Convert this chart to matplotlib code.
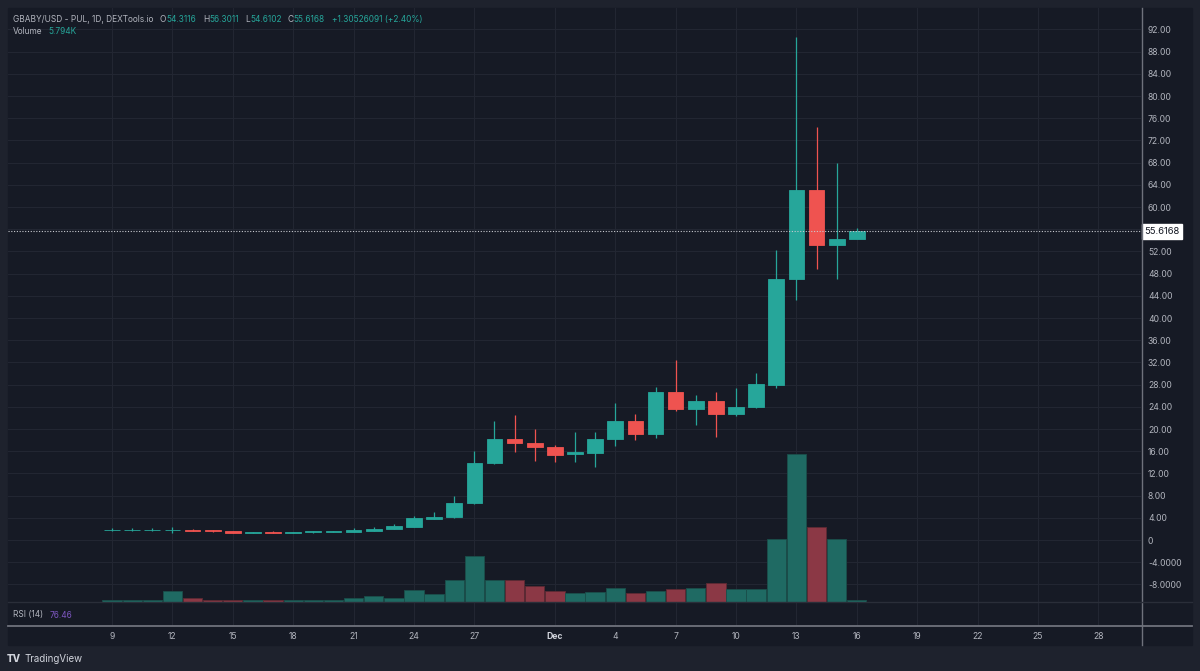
import matplotlib
matplotlib.use("Agg")
import matplotlib.pyplot as plt
import matplotlib.dates as mdates
from matplotlib.lines import Line2D
from matplotlib.patches import Rectangle
import numpy as np
import pandas as pd

plt.rcParams['font.family'] = ['Inter', 'DejaVu Sans']

# daily candles, GBABY/USD (PUL), 9 Nov - 16 Dec
dates = pd.date_range('2023-11-09', '2023-12-16', freq='D')
opens = [1.72, 1.78, 1.78, 1.78, 1.85, 1.72, 1.56, 1.34, 1.48, 1.30,
         1.40, 1.45, 1.45, 1.70, 1.95, 2.35, 3.85, 4.15, 6.7, 13.9,
         18.2, 17.5, 16.8, 15.5, 15.7, 18.2, 21.5, 19.1, 26.7, 23.6,
         25.1, 22.7, 24.0, 28.0, 47.1, 63.0, 53.2, 54.3116]
highs = [2.15, 2.2, 2.2, 2.3, 2.0, 1.85, 1.6, 1.5, 1.55, 1.45,
         1.6, 1.7, 2.2, 2.35, 2.9, 4.4, 5.0, 7.9, 16.1, 21.5,
         22.6, 20.0, 17.1, 19.5, 19.5, 24.7, 22.7, 27.6, 32.5, 26.2,
         26.7, 27.3, 30.1, 52.3, 90.6, 74.5, 67.9, 56.3011]
lows = [1.65, 1.70, 1.70, 1.30, 1.55, 1.50, 1.30, 1.28, 1.25, 1.18,
        1.35, 1.40, 1.40, 1.65, 1.90, 2.30, 3.80, 4.0, 6.5, 13.7,
        15.9, 14.3, 14.1, 14.1, 13.2, 17.0, 18.0, 18.4, 23.3, 20.8,
        18.6, 22.4, 23.8, 27.4, 43.2, 48.9, 47.1, 54.6102]
closes = [1.80, 1.82, 1.82, 1.85, 1.70, 1.55, 1.33, 1.50, 1.30, 1.45,
          1.55, 1.55, 1.75, 2.0, 2.5, 3.95, 4.1, 6.7, 13.9, 18.2,
          17.5, 16.8, 15.3, 15.9, 18.2, 21.5, 19.1, 26.7, 23.6, 25.1,
          22.7, 24.0, 28.1, 47.1, 63.0, 53.2, 54.3116, 55.6168]
volumes_k = [5.2, 5.2, 5.2, 33.5, 11.3, 7.0, 6.1, 5.2, 4.6, 5.2,
             7.0, 7.0, 13.1, 17.4, 13.1, 36.6, 25.9, 65.9, 141.0, 65.9,
             65.9, 47.6, 33.5, 27.5, 31.4, 41.5, 27.5, 33.5, 39.7, 43.6,
             58.0, 40.6, 39.0, 191.5, 451.0, 229.7, 191.8, 5.794]
change_text = '+1.30526091 (+2.40%)'
rsi_value = '76.46'

tick_dates = list(pd.date_range('2023-11-09', '2023-11-27', freq='3D')) + \
    [pd.Timestamp('2023-12-01')] + list(pd.date_range('2023-12-04', '2023-12-28', freq='3D'))
tick_labels = ['Dec' if d.day == 1 else str(d.day) for d in tick_dates]
price_ticks = [v for v in range(-8, 93, 4) if v != 56]

UP, DOWN = '#26a69a', '#ef5350'
VUP, VDOWN = '#1f6a63', '#8b3845'
PANE, OUTER = '#161a25', '#1e222d'
GRID = '#222632'
TXT = '#b2b5be'

W, H = 1200, 671


def rect(x0, y0, x1, y1):
    return [x0 / W, 1 - y1 / H, (x1 - x0) / W, (y1 - y0) / H]


fig = plt.figure(figsize=(W / 100, H / 100), dpi=100, facecolor=OUTER)
fig.add_artist(Rectangle((8 / W, 1 - 645 / H), 1184 / W, 637 / H,
                         transform=fig.transFigure, color=PANE, zorder=0))

xd = mdates.date2num(dates)
x0 = xd[0]

ax = fig.add_axes(rect(8, 8, 1141, 602))
ax.patch.set_visible(False)
ax.set_xlim(x0 - 5.17, x0 + 51.12)
ax.set_ylim(-11.17, 95.86)
for s in ax.spines.values():
    s.set_visible(False)
tick_x = mdates.date2num(tick_dates)
for t in tick_x:
    ax.axvline(t, color=GRID, lw=0.8, zorder=0)
for p in price_ticks + [56]:
    ax.axhline(p, color=GRID, lw=0.8, zorder=0)

ax.yaxis.tick_right()
ax.set_yticks(price_ticks)
ax.set_yticklabels([f'{v:.2f}' if v > 0 else ('0' if v == 0 else f'{v:.4f}') for v in price_ticks])
ax.tick_params(axis='y', length=0, pad=5, labelsize=6.2, labelcolor=TXT)
ax.set_xticks([])

o = np.array(opens)
c = np.array(closes)
up = c >= o
cols = np.where(up, UP, DOWN)
ax.vlines(xd, lows, highs, colors=cols, lw=0.9, zorder=3)
ax.bar(xd, np.abs(c - o), bottom=np.minimum(o, c), width=0.78,
       color=cols, edgecolor=cols, lw=0.6, zorder=4)

ax.axhline(closes[-1], color='#c8cad0', lw=0.8, ls=(0, (1, 1.5)), zorder=5)
ax.text(1.003, closes[-1], f'{closes[-1]:.4f}', transform=ax.get_yaxis_transform(),
        ha='left', va='center', fontsize=6.8, color='#131722', zorder=6,
        bbox=dict(boxstyle='square,pad=0.3', fc='white', ec='white'))

vax = fig.add_axes(rect(8, 8, 1141, 602), sharex=ax)
vax.patch.set_visible(False)
vax.axis('off')
vax.set_ylim(0, 451.0 * 594 / 148)
vax.bar(xd, volumes_k, width=0.96, color=np.where(up, VUP, VDOWN),
        edgecolor=np.where(up, '#1a4f4b', '#5e2a33'), lw=0.6)

rax = fig.add_axes(rect(8, 602, 1141, 626), sharex=ax)
rax.patch.set_visible(False)
rax.set_yticks([])
rax.tick_params(axis='x', length=0, labelbottom=False)
for s in rax.spines.values():
    s.set_visible(False)
for t in tick_x:
    rax.axvline(t, color=GRID, lw=0.8)

tax = fig.add_axes(rect(8, 627, 1141, 645), sharex=ax)
tax.patch.set_visible(False)
tax.set_yticks([])
tax.tick_params(axis='x', length=0, labelbottom=False)
for s in tax.spines.values():
    s.set_visible(False)
for t, lbl in zip(tick_x, tick_labels):
    tax.text(t, 0.45, lbl, transform=tax.get_xaxis_transform(), ha='center', va='center',
             fontsize=6.2, color='#d1d4dc' if lbl == 'Dec' else TXT,
             fontweight='bold' if lbl == 'Dec' else 'normal')

# frame lines
fig.add_artist(Line2D([1141.7 / W] * 2, [1 - 8 / H, 1 - 645 / H], color='#6f727c', lw=1.0))
fig.add_artist(Line2D([8 / W, 1192 / W], [1 - 626 / H] * 2, color='#6f727c', lw=1.3))
fig.add_artist(Line2D([8 / W, 1192 / W], [1 - 602 / H] * 2, color='#2a2e39', lw=1.0))


def ftext(x, y, s, color=TXT, size=6.0, **kw):
    fig.text(x / W, 1 - y / H, s, color=color, fontsize=size, va='center', ha='left', **kw)


ftext(13, 19.5, 'GBABY/USD - PUL, 1D, DEXTools.io')
for lx, vx, lab, val in [(160, 166, 'O', opens[-1]), (203, 209, 'H', highs[-1]),
                         (245, 250, 'L', lows[-1]), (287, 293, 'C', closes[-1])]:
    ftext(lx, 19.5, lab)
    ftext(vx, 19.5, f'{val:.4f}', color=UP)
ftext(332, 19.5, change_text, color=UP)
ftext(13, 32, 'Volume')
ftext(48, 32, f'{volumes_k[-1]:.3f}K', color=UP)
ftext(13, 615, 'RSI (14)')
ftext(50, 615, rsi_value, color='#7e57c2')
ftext(7, 659, 'TV', color='#d1d4dc', size=7, fontweight='heavy')
ftext(24, 659, 'TradingView', color='#d1d4dc', size=7)

fig.savefig('out.png', dpi=100, facecolor=OUTER)
